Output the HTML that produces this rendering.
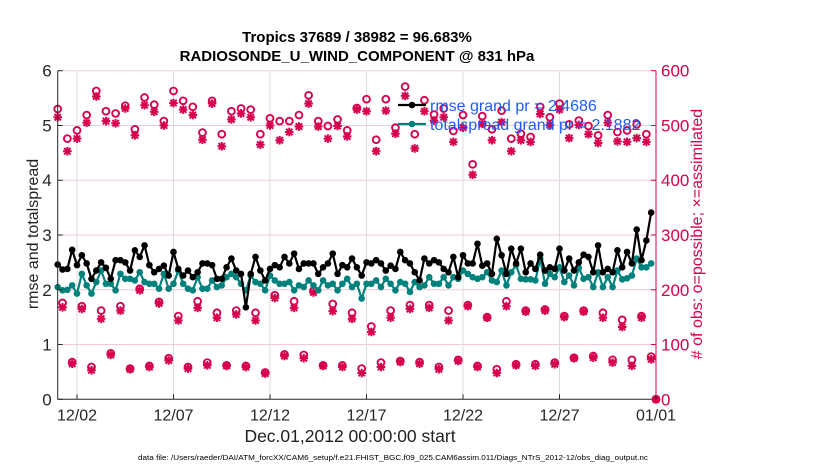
<!DOCTYPE html>
<html><head><meta charset="utf-8"><style>
body{margin:0;background:#fff;}
svg{display:block;font-family:"Liberation Sans",Arial,sans-serif;}
</style></head><body>
<svg id="chart" width="830" height="470" viewBox="0 0 830 470" xmlns="http://www.w3.org/2000/svg">
<g id="grid"></g>
<g id="series"></g>
<g id="axes"></g>
<text x="357" y="42" font-size="15" font-weight="bold" text-anchor="middle" fill="#000">Tropics 37689 / 38982 = 96.683%</text>
<text x="357" y="61" font-size="15" font-weight="bold" text-anchor="middle" fill="#000">RADIOSONDE_U_WIND_COMPONENT @ 831 hPa</text>
<text transform="translate(38,234) rotate(-90)" font-size="16" text-anchor="middle" fill="#222">rmse and totalspread</text>
<text transform="translate(702,234) rotate(-90)" font-size="16" text-anchor="middle" fill="#d6004f"># of obs: o=possible; ×=assimilated</text>
<text x="350" y="442" font-size="17.5" text-anchor="middle" fill="#222">Dec.01,2012 00:00:00 start</text>
<text x="138" y="460" font-size="7" textLength="510" lengthAdjust="spacingAndGlyphs" fill="#000">data file: /Users/raeder/DAI/ATM_forcXX/CAM6_setup/f.e21.FHIST_BGC.f09_025.CAM6assim.011/Diags_NTrS_2012-12/obs_diag_output.nc</text>
<g id="legend"></g>
</svg>
<script>
// ---- data ----
const rmse = [2.46,2.37,2.38,2.73,2.45,2.63,2.48,2.2,2.35,2.5,2.4,2.2,2.54,2.54,2.5,2.35,2.72,2.6,2.81,2.45,2.32,2.38,2.44,2.26,2.69,2.38,2.26,2.35,2.23,2.32,2.48,2.48,
2.45,2.2,2.2,2.41,2.57,2.35,2.29,1.68,2.29,2.6,2.35,2.17,2.38,2.45,2.41,2.6,2.48,2.66,2.38,2.48,2.48,2.48,2.29,2.41,2.48,2.66,2.29,2.45,2.41,2.57,
2.41,2.26,2.5,2.48,2.54,2.48,2.35,2.44,2.38,2.69,2.54,2.48,2.32,2.17,2.57,2.48,2.54,2.5,2.38,2.32,2.6,2.23,2.63,2.48,2.48,2.84,2.44,2.48,2.29,2.93,2.63,
2.29,2.75,2.48,2.75,2.32,2.48,2.38,2.64,2.35,2.41,2.38,2.75,2.35,2.57,2.35,2.5,2.64,2.6,2.32,2.81,2.32,2.38,2.32,2.72,2.41,2.69,2.48,3.1,2.54,2.9,3.41];
const spread = [2.05,1.99,2.0,2.08,1.93,2.29,2.08,1.93,2.14,2.35,2.11,2.11,1.99,2.29,2.2,2.2,2.17,2.32,2.14,2.11,2.11,2.02,2.29,2.02,2.11,2.35,2.11,2.02,1.99,2.23,2.02,2.02,
2.17,2.05,2.08,2.23,2.29,2.23,2.11,1.99,2.26,2.14,2.11,1.99,2.26,2.17,2.11,2.11,2.14,1.99,2.08,2.05,2.17,2.08,1.99,2.17,2.08,2.11,1.99,2.11,2.2,2.05,
2.11,1.84,2.11,2.11,2.17,2.05,2.2,2.11,1.99,2.14,2.11,1.96,2.14,2.05,2.08,2.23,2.11,2.11,2.23,2.08,2.23,2.2,2.35,2.29,2.23,2.2,2.23,2.32,2.17,2.14,2.35,
2.08,2.32,2.45,2.2,2.19,2.19,2.17,2.57,2.11,2.29,2.23,2.41,2.14,2.26,2.08,2.4,2.2,2.23,2.05,2.32,2.05,2.23,2.05,2.35,2.19,2.21,2.26,2.57,2.41,2.41,2.48];
// obs counts (00Z/12Z, 06Z, 18Z)
const possMain = [530,476,491,519,563,526,522,536,493,551,538,508,563,545,534,487,545,484,526,531,529,484,513,508,508,519,555,508,499,511,491,532,
548,474,548,496,571,484,546,520,531,490,519,429,517,493,527,476,485,479,534,515,540,502,509,499,482,519,488,491,502,484,0];
const assimMain = [515,453,476,505,553,508,504,531,482,537,525,500,541,529,519,474,540,462,511,522,515,465,500,473,488,498,540,498,476,499,480,529,
526,453,527,485,554,458,526,509,515,470,496,410,503,473,506,453,473,470,521,501,529,477,501,484,468,505,471,470,477,470,0];
const possMid = [176,170,162,170,202,178,152,179,158,162,158,190,179,198,174,158,133,162,172,172,162,172,150,179,162,164,152,162,158,145,152];
const assimMid = [168,165,147,162,199,175,144,167,149,155,144,185,167,195,161,147,123,149,165,167,144,170,149,170,160,162,150,160,149,132,149];
const possLow = [68,59,84,56,61,75,59,67,62,61,49,82,81,62,62,56,67,70,68,59,72,61,55,64,64,67,76,79,72,72,78];
const assimLow = [65,53,81,55,59,71,56,62,61,59,47,79,75,61,59,48,59,68,65,55,70,59,48,62,61,64,75,76,67,61,73];
const xTickLabels = ["12/02","12/07","12/12","12/17","12/22","12/27","01/01"];
const xTickDays = [1,6,11,16,21,26,31];
const yTicksLeft = [0,1,2,3,4,5,6];
const yTicksRight = [0,100,200,300,400,500,600];

// ---- scales ----
const X0=57.7, X1=656, Y0=399.3, Y1=70.7;
const xs = d => X0 + d/31*(X1-X0);
const yl = v => Y0 - v/6*(Y0-Y1);
const yr = c => Y0 - c/600*(Y0-Y1);
const NS="http://www.w3.org/2000/svg";
const PINK="#d6004f", TEAL="#00817b";
function mk(tag, attrs, parent){const e=document.createElementNS(NS,tag);for(const k in attrs)e.setAttribute(k,attrs[k]);parent.appendChild(e);return e;}
const grid=document.getElementById('grid'), ser=document.getElementById('series'), ax=document.getElementById('axes'), leg=document.getElementById('legend');

// grid
yTicksLeft.forEach(v=>{ if(v===0)return;
  const l=mk('line',{x1:X0,x2:X1,y1:yl(v),y2:yl(v),stroke:'#f4c9d8','stroke-width':1},grid);
  
  
});
xTickDays.forEach((d,i)=>{
  const l=mk('line',{x1:xs(d),x2:xs(d),y1:Y1,y2:Y0,stroke:'#dcdcdc','stroke-width':1},grid);
  
  
});

// obs markers
function circ(x,y,name){const c=mk('circle',{cx:x,cy:y,r:3.4,fill:'none',stroke:PINK,'stroke-width':1.9},ser);
  
  }
function star(x,y,name){const g=mk('g',{stroke:PINK,'stroke-width':2},ser);
  
  
  const s=4.3; mk('line',{x1:x-s,x2:x+s,y1:y,y2:y},g); mk('line',{x1:x,x2:x,y1:y-s,y2:y+s},g);
  const t=3.2; mk('line',{x1:x-t,x2:x+t,y1:y-t,y2:y+t},g); mk('line',{x1:x-t,x2:x+t,y1:y+t,y2:y-t},g);}
possMain.forEach((c,i)=>circ(xs(i*0.5),yr(c),'possible-obs-marker'));
assimMain.forEach((c,i)=>star(xs(i*0.5),yr(c),'assimilated-obs-marker'));
possMid.forEach((c,i)=>circ(xs(i+0.25),yr(c),'possible-obs-marker'));
assimMid.forEach((c,i)=>star(xs(i+0.25),yr(c),'assimilated-obs-marker'));
possLow.forEach((c,i)=>circ(xs(i+0.75),yr(c),'possible-obs-marker'));
assimLow.forEach((c,i)=>star(xs(i+0.75),yr(c),'assimilated-obs-marker'));

// lines
function series(vals,color,name){
  const pts=vals.map((v,i)=>xs(i*0.25).toFixed(2)+','+yl(v).toFixed(2)).join(' ');
  const p=mk('polyline',{points:pts,fill:'none',stroke:color,'stroke-width':2.2,'stroke-linejoin':'round'},ser);
  
  
  vals.forEach((v,i)=>{const c=mk('circle',{cx:xs(i*0.25),cy:yl(v),r:3.3,fill:color},ser);
    
    });
}
series(spread,TEAL,'totalspread');
series(rmse,'#000','rmse');

// axes
mk('line',{x1:X0,x2:X0,y1:Y1,y2:Y0,stroke:'#262626','stroke-width':1},ax);
mk('line',{x1:X0,x2:X1,y1:Y0,y2:Y0,stroke:'#262626','stroke-width':1},ax);
mk('line',{x1:X1,x2:X1,y1:Y1,y2:Y0,stroke:PINK,'stroke-width':1},ax);
yTicksLeft.forEach(v=>{
  mk('line',{x1:X0,x2:X0+5,y1:yl(v),y2:yl(v),stroke:'#262626'},ax);
  const t=mk('text',{x:X0-6,y:yl(v)+6,'font-size':17,'text-anchor':'end',fill:'#262626'},ax);
  t.textContent=v;
  
  
});
yTicksRight.forEach(v=>{
  mk('line',{x1:X1-5,x2:X1,y1:yr(v),y2:yr(v),stroke:PINK},ax);
  const t=mk('text',{x:X1+5,y:yr(v)+6,'font-size':17,'text-anchor':'start',fill:PINK},ax);
  t.textContent=v;
  
  
});
xTickDays.forEach((d,i)=>{
  mk('line',{x1:xs(d),x2:xs(d),y1:Y0-5,y2:Y0,stroke:'#262626'},ax);
  const t=mk('text',{x:xs(d),y:Y0+21,'font-size':16,'text-anchor':'middle',fill:'#262626'},ax);
  t.textContent=xTickLabels[i];
  
  
});

// legend
[[105,'#000','rmse grand pr = 2.4686','legend-entry-rmse'],[124,TEAL,'totalspread grand pr = 2.1882','legend-entry-totalspread']].forEach(r=>{
  const g=mk('g',{},leg);
  
  
  mk('line',{x1:398,x2:426,y1:r[0],y2:r[0],stroke:r[1],'stroke-width':2.2},g);
  mk('circle',{cx:412,cy:r[0],r:3.3,fill:r[1]},g);
  const t=mk('text',{x:430,y:r[0]+6,'font-size':16,fill:'#1f5cf5'},g);
  t.textContent=r[2];
});
</script>
</body></html>
